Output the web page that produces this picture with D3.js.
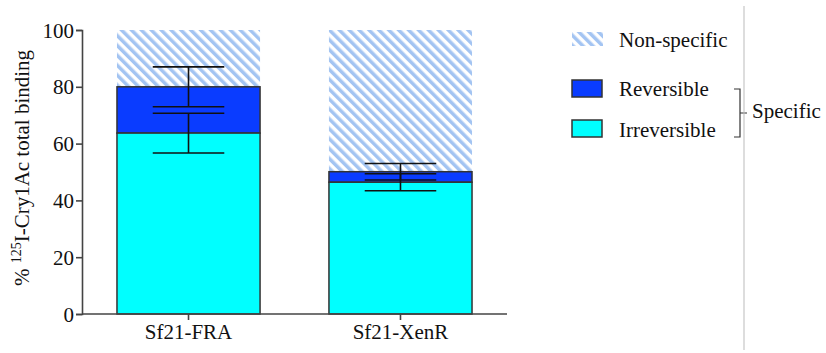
<!DOCTYPE html>
<html>
<head>
<meta charset="utf-8">
<script src="https://cdn.jsdelivr.net/npm/d3@7"></script>
<style>
  body { margin: 0; background: #fff; }
  svg text { font-family: "Liberation Serif", "Times New Roman", Tinos, "DejaVu Serif", serif; fill: #111; }
</style>
</head>
<body>
<script>
// data
var cells = ["Sf21-FRA", "Sf21-XenR"];
var irreversible = [63.7, 46.4];
var irreversibleErr = [7.0, 3.0];
var specific = [80.0, 50.1];      // irreversible + reversible
var specificErr = [7.0, 2.9];
var total = [100, 100];
var yTicks = [0, 20, 40, 60, 80, 100];

var serif = '"Liberation Serif", "Times New Roman", Tinos, "DejaVu Serif", serif';
var width = 826, height = 353;

var svg = d3.select("body").append("svg")
    .attr("width", width)
    .attr("height", height);

// hatch for non-specific binding
var defs = svg.append("defs");
defs.append("pattern")
    .attr("id", "hatch")
    .attr("patternUnits", "userSpaceOnUse")
    .attr("width", 7).attr("height", 7)
    .attr("patternTransform", "rotate(-45)")
  .append("rect")
    .attr("width", 3.5).attr("height", 7)
    .attr("fill", "#a3c4f2");

var x = d3.scaleBand()
    .domain(cells)
    .range([82, 507])
    .paddingInner(0.325)
    .paddingOuter(0.165);

var y = d3.scaleLinear()
    .domain([0, 100])
    .range([314, 30]);

var rows = cells.map(function(c, i) {
  return {cell: c, irr: irreversible[i], irrErr: irreversibleErr[i],
          spec: specific[i], specErr: specificErr[i], tot: total[i]};
});

var bars = svg.append("g");

// non-specific (hatched, no outline)
bars.selectAll(".nonspec")
    .data(rows)
  .enter().append("rect")
    .attr("x", function(d) { return x(d.cell); })
    .attr("width", x.bandwidth())
    .attr("y", function(d) { return y(d.tot); })
    .attr("height", function(d) { return y(d.spec) - y(d.tot); })
    .attr("fill", "url(#hatch)");

// reversible
bars.selectAll(".rev")
    .data(rows)
  .enter().append("rect")
    .attr("x", function(d) { return x(d.cell); })
    .attr("width", x.bandwidth())
    .attr("y", function(d) { return y(d.spec); })
    .attr("height", function(d) { return y(d.irr) - y(d.spec); })
    .attr("fill", "#0a3cff")
    .attr("stroke", "#333")
    .attr("stroke-width", 1.5);

// irreversible
bars.selectAll(".irr")
    .data(rows)
  .enter().append("rect")
    .attr("x", function(d) { return x(d.cell); })
    .attr("width", x.bandwidth())
    .attr("y", function(d) { return y(d.irr); })
    .attr("height", function(d) { return y(0) - y(d.irr); })
    .attr("fill", "#00ffff")
    .attr("stroke", "#333")
    .attr("stroke-width", 1.5);

// error bars
var capHalf = x.bandwidth() * 0.25;
function errBars(key, errKey) {
  var g = svg.append("g").attr("stroke", "#111").attr("stroke-width", 1.6);
  rows.forEach(function(d) {
    var cx = x(d.cell) + x.bandwidth() / 2;
    var lo = d[key] - d[errKey], hi = d[key] + d[errKey];
    g.append("line").attr("x1", cx).attr("x2", cx).attr("y1", y(lo)).attr("y2", y(hi));
    [lo, hi].forEach(function(v) {
      g.append("line").attr("x1", cx - capHalf).attr("x2", cx + capHalf)
        .attr("y1", y(v)).attr("y2", y(v));
    });
  });
}
errBars("spec", "specErr");
errBars("irr", "irrErr");

// axes
var yAxis = svg.append("g")
    .attr("transform", "translate(82,0)")
    .call(d3.axisLeft(y).tickValues(yTicks).tickSize(6).tickPadding(2));
var xAxis = svg.append("g")
    .attr("transform", "translate(0,314)")
    .call(d3.axisBottom(x).tickSize(6).tickPadding(4).tickSizeOuter(0));

[yAxis, xAxis].forEach(function(a) {
  a.attr("font-family", null);
  a.select(".domain").attr("stroke", "#444").attr("stroke-width", 1.6);
  a.selectAll(".tick line").attr("stroke", "#444").attr("stroke-width", 1.6);
  a.selectAll("text").attr("fill", "#111")
    .style("font-family", serif).style("font-size", "21px");
});
yAxis.selectAll(".tick text").attr("dy", "0.34em");
xAxis.select(".domain").attr("d", "M82,0H507");

// y label with superscript
var yl = svg.append("text")
    .attr("transform", "translate(29,168) rotate(-90)")
    .attr("text-anchor", "middle")
    .style("font-family", serif)
    .style("font-size", "21px");
yl.append("tspan").text("% ");
yl.append("tspan").text("125").attr("dy", -8).style("font-size", "14px");
yl.append("tspan").text("I-Cry1Ac total binding").attr("dy", 8);

// legend
var legend = svg.append("g").style("font-family", serif);
legend.append("rect").attr("x", 572).attr("y", 32).attr("width", 31).attr("height", 14)
    .attr("fill", "url(#hatch)");
legend.append("rect").attr("x", 572).attr("y", 80).attr("width", 30).attr("height", 17)
    .attr("fill", "#0a3cff").attr("stroke", "#333").attr("stroke-width", 1.5);
legend.append("rect").attr("x", 572).attr("y", 120).attr("width", 30).attr("height", 17)
    .attr("fill", "#00ffff").attr("stroke", "#333").attr("stroke-width", 1.5);

var labels = ["Non-specific", "Reversible", "Irreversible"];
var labelY = [47, 96, 137];
labels.forEach(function(t, i) {
  legend.append("text").attr("x", 619).attr("y", labelY[i])
    .style("font-size", "21px").text(t);
});

// bracket for "Specific"
legend.append("path")
    .attr("d", "M734,89H740V137H734M740,113H747")
    .attr("fill", "none").attr("stroke", "#333").attr("stroke-width", 1.2);
legend.append("text").attr("x", 752).attr("y", 118)
    .style("font-size", "21px").text("Specific");

// frame line on right
svg.append("line")
    .attr("x1", 744).attr("x2", 744).attr("y1", 6).attr("y2", 350)
    .attr("stroke", "#bbb").attr("stroke-width", 1);
</script>
</body>
</html>
